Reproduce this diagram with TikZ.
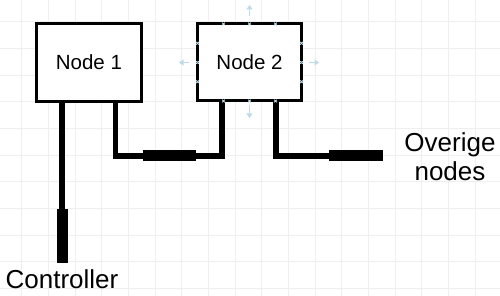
\documentclass[tikz,border=0pt]{standalone}
\usepackage{fontspec}
\setmainfont{Liberation Sans}
\usetikzlibrary{arrows.meta,calc}
\definecolor{gridc}{RGB}{239,239,239}
\definecolor{hint}{RGB}{188,220,236}
\begin{document}
\begin{tikzpicture}[x=1pt,y=-1pt,
  box/.style={draw=black,fill=white,line width=3pt,outer sep=0pt,inner sep=0pt,
    minimum width=105pt,minimum height=77.5pt,font=\fontsize{20.5}{24}\selectfont},
  wire/.style={line width=5.2pt,line join=miter},
  plug/.style={line width=11pt},
  lbl/.style={font=\fontsize{26}{29}\selectfont,align=center,inner sep=0pt},
  hintarrow/.style={draw=hint,line width=1.6pt,-{Triangle[length=4.5pt,width=6pt]}},
  hintmark/.style={draw=hint,line width=0.9pt}]
\useasboundingbox (0,0) rectangle (500,296);
\fill[white] (0,0) rectangle (500,296);
% grid
\foreach \i in {0,...,18} \draw[gridc,line width=0.6pt] (21.7+26.667*\i,0) -- ++(0,296);
\foreach \i in {0,...,10} \draw[gridc,line width=0.6pt] (0,21.7+26.667*\i) -- ++(500,0);
% boxes
\node[box] (n1) at (88.9,62.5) {Node 1};
\node[box,minimum width=104pt,minimum height=77pt] (n2) at (249.5,62.5) {Node 2};
% junction coordinates
\coordinate (p1a) at (62,209.3);
\coordinate (p1b) at (62,263);
\coordinate (j1) at (115.5,156);
\coordinate (j2) at (222,156);
\coordinate (p2a) at (142.7,156);
\coordinate (p2b) at (196,156);
\coordinate (j3) at (276,156);
\coordinate (p3a) at (329,156);
\coordinate (p3b) at (383,156);
% wires
\draw[wire] (n1.south -| p1a) -- (p1a);
\draw[plug] (p1a) -- (p1b);
\draw[wire] (n1.south -| j1) -- (j1) -- (j2) -- (n2.south -| j2);
\draw[plug] (p2a) -- (p2b);
\draw[wire] (n2.south -| j3) -- (j3) -- (p3a);
\draw[plug] (p3a) -- (p3b);
% labels
\node[lbl,anchor=base] (ctrl) at (62,288) {Controller};
\node[lbl] (ovr) at (450,156.5) {Overige\\nodes};
% hover hints around node 2
\foreach \f in {0.25,0.5,0.75}{
  \draw[hintmark] ($(n2.north west)!\f!(n2.north east)$) ++(-1.3,-1.3) -- ++(2.6,2.6) ++(-2.6,0) -- ++(2.6,-2.6);
  \draw[hintmark] ($(n2.south west)!\f!(n2.south east)$) ++(-1.3,-1.3) -- ++(2.6,2.6) ++(-2.6,0) -- ++(2.6,-2.6);
  \draw[hintmark] ($(n2.north west)!\f!(n2.south west)$) ++(-1.3,-1.3) -- ++(2.6,2.6) ++(-2.6,0) -- ++(2.6,-2.6);
  \draw[hintmark] ($(n2.north east)!\f!(n2.south east)$) ++(-1.3,-1.3) -- ++(2.6,2.6) ++(-2.6,0) -- ++(2.6,-2.6);
}
\coordinate (h1) at (249.5,16); \coordinate (h1e) at (249.5,5);
\coordinate (h2) at (188.5,62.5); \coordinate (h2e) at (179,62.5);
\coordinate (h3) at (309,62.5); \coordinate (h3e) at (319,62.5);
\coordinate (h4) at (249.5,105); \coordinate (h4e) at (249.5,118);
\draw[hintarrow] (h1) -- (h1e);
\draw[hintarrow] (h2) -- (h2e);
\draw[hintarrow] (h3) -- (h3e);
\draw[hintarrow] (h4) -- (h4e);
\end{tikzpicture}
\end{document}
